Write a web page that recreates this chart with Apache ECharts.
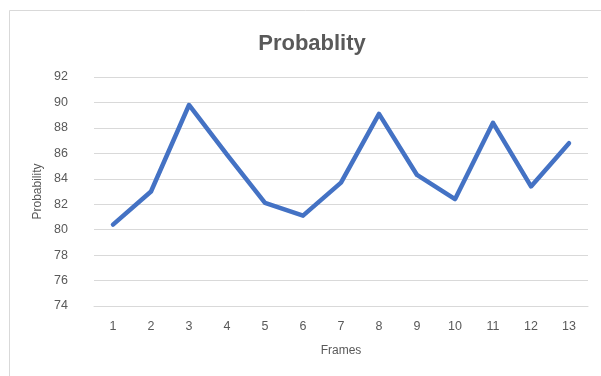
<!DOCTYPE html>
<html>
<head>
<meta charset="utf-8">
<script src="https://cdn.jsdelivr.net/npm/echarts@6/dist/echarts.min.js"></script>
<style>
  html, body { margin: 0; padding: 0; background: #fff; }
  #chart { width: 601px; height: 376px; }
</style>
</head>
<body>
<div id="chart"></div>
<script>
// Frame numbers along the x axis
const frames = ['1', '2', '3', '4', '5', '6', '7', '8', '9', '10', '11', '12', '13'];
// Probability value per frame
const probability = [80.4, 83.0, 89.8, 85.9, 82.1, 81.1, 83.7, 89.1, 84.3, 82.4, 88.4, 83.4, 86.8];
// Y axis range and step
const yMin = 74;
const yMax = 92;
const yStep = 2;

const textColor = '#595959';
const font = '"Liberation Sans", "DejaVu Sans", sans-serif';

const chart = echarts.init(document.getElementById('chart'), null, { renderer: 'canvas' });
chart.setOption({
  animation: false,
  backgroundColor: '#ffffff',
  graphic: [{
    type: 'rect',
    left: 7, top: 8,
    shape: { width: 620, height: 400 },
    style: { fill: 'none', stroke: '#d9d9d9', lineWidth: 1 },
    silent: true
  }],
  title: {
    text: 'Probablity',
    left: 307,
    textAlign: 'center',
    top: 28,
    textStyle: { color: textColor, fontSize: 22, fontWeight: 'bold', fontFamily: font }
  },
  grid: { left: 94, right: 13, top: 77, bottom: 70 },
  xAxis: {
    type: 'category',
    data: frames,
    boundaryGap: true,
    name: 'Frames',
    nameLocation: 'middle',
    nameGap: 39,
    nameTextStyle: { color: textColor, fontSize: 12, fontFamily: font },
    axisLine: { show: true, lineStyle: { color: '#d9d9d9', width: 1 } },
    axisTick: { show: false },
    axisLabel: { color: textColor, fontSize: 12.5, fontFamily: font, margin: 14 }
  },
  yAxis: {
    type: 'value',
    min: yMin,
    max: yMax,
    interval: yStep,
    name: 'Probability',
    nameLocation: 'middle',
    nameGap: 50,
    nameRotate: 90,
    nameTextStyle: { color: textColor, fontSize: 12, fontFamily: font },
    axisLine: { show: false },
    axisTick: { show: false },
    axisLabel: { color: textColor, fontSize: 12.5, fontFamily: font, margin: 26 },
    splitLine: { lineStyle: { color: '#d9d9d9', width: 1 } }
  },
  series: [{
    type: 'line',
    data: probability,
    showSymbol: false,
    symbol: 'none',
    smooth: false,
    lineStyle: { color: '#4472C4', width: 4.5, cap: 'round', join: 'round' }
  }]
});
</script>
</body>
</html>
